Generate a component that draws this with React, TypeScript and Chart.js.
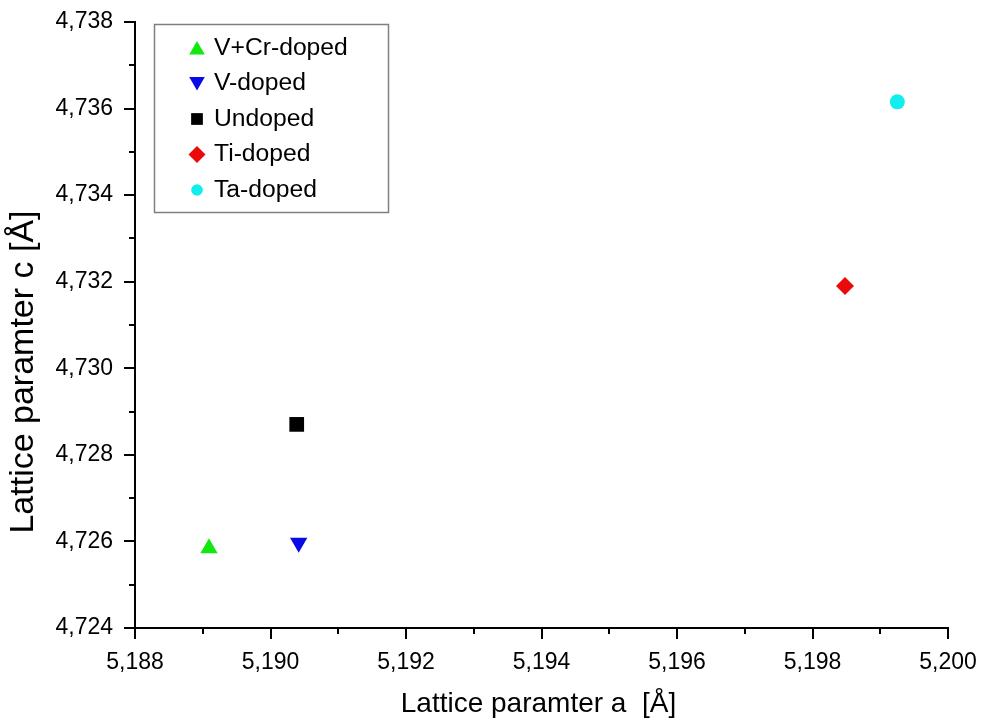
import React, { useEffect, useRef } from 'react';
import { Chart, registerables } from 'chart.js';
import { drawPoint } from 'chart.js/helpers';

Chart.register(...registerables);

// ---- data ----
const seriesLabels = ['V+Cr-doped', 'V-doped', 'Undoped', 'Ti-doped', 'Ta-doped'];
const latticeA = [5.189092, 5.190416, 5.190387, 5.19848, 5.199252];
const latticeC = [4.725841, 4.72597, 4.728704, 4.731903, 4.736155];
const pointStyles = ['triangle', 'triangle', 'rect', 'rectRot', 'circle'];
const rotations = [0, 180, 0, 0, 0];
const colors = ['#10e810', '#0a0ae6', '#000000', '#ea0a0a', '#10eeee'];
const pointRadii = [10, 10, 10.4, 9, 7.5];
const legendRadii = [9, 9, 8.3, 8.5, 5.8];
const xRange = [5.188, 5.2];
const yRange = [4.724, 4.738];
const tickStep = 0.001;
const xTitle = 'Lattice paramter a  [Å]';
const yTitle = 'Lattice paramter c [Å]';

const FONT = "'Liberation Sans', Arial, Helvetica, sans-serif";

const isMajor = (v: number) => Math.round(v * 1000) % 2 === 0;
const fmt = (v: number) => (isMajor(v) ? v.toFixed(3).replace('.', ',') : '');

const zeroPad = (s: any) => {
  s.paddingLeft = 0;
  s.paddingRight = 0;
  s.paddingTop = 0;
  s.paddingBottom = 0;
};

const decorPlugin = {
  id: 'decor',
  afterDraw(chart: any) {
    const ctx = chart.ctx as CanvasRenderingContext2D;
    const xs = chart.scales.x;
    const ys = chart.scales.y;
    const area = chart.chartArea;
    ctx.save();
    // tick marks (major + minor)
    ctx.strokeStyle = '#000';
    ctx.lineWidth = 2;
    xs.ticks.forEach((t: any) => {
      const px = Math.round(xs.getPixelForValue(t.value));
      const len = isMajor(t.value) ? 11 : 6;
      ctx.beginPath();
      ctx.moveTo(px, area.bottom);
      ctx.lineTo(px, area.bottom + len);
      ctx.stroke();
    });
    ys.ticks.forEach((t: any) => {
      const py = Math.round(ys.getPixelForValue(t.value));
      const len = isMajor(t.value) ? 11 : 6;
      ctx.beginPath();
      ctx.moveTo(area.left, py);
      ctx.lineTo(area.left - len, py);
      ctx.stroke();
    });

    // axis titles
    ctx.fillStyle = '#000';
    ctx.textAlign = 'center';
    ctx.textBaseline = 'middle';
    ctx.font = `28px ${FONT}`;
    ctx.fillText(xTitle, (area.left + area.right) / 2 - 3, 704);
    ctx.save();
    ctx.translate(24, 372);
    ctx.rotate(-Math.PI / 2);
    ctx.font = `34px ${FONT}`;
    ctx.fillText(yTitle, 0, 0);
    ctx.restore();

    // legend box
    ctx.strokeStyle = '#808080';
    ctx.lineWidth = 1.5;
    ctx.strokeRect(154.5, 24.5, 234, 188);
    ctx.font = `24.7px ${FONT}`;
    ctx.textAlign = 'left';
    chart.data.datasets.forEach((ds: any, i: number) => {
      const rowY = 48 + i * 35.5;
      ctx.fillStyle = ds.backgroundColor;
      drawPoint(
        ctx,
        { pointStyle: ds.pointStyle, rotation: ds.rotation || 0, radius: legendRadii[i], borderWidth: 0 } as any,
        197,
        rowY + (ds.pointStyle === 'triangle' ? (ds.rotation ? -2 : 2) : 0)
      );
      ctx.fillStyle = '#000';
      ctx.fillText(ds.label, 214, rowY);
    });
    ctx.restore();
  },
};

export default function App() {
  const ref = useRef<HTMLCanvasElement>(null);
  useEffect(() => {
    document.body.style.margin = '0';
    if (!ref.current) return;
    const datasets = seriesLabels.map((label, i) => ({
      label,
      data: [{ x: latticeA[i], y: latticeC[i] }],
      pointStyle: pointStyles[i],
      rotation: rotations[i],
      backgroundColor: colors[i],
      borderColor: colors[i],
      borderWidth: 0,
      pointRadius: pointRadii[i],
      pointHoverRadius: pointRadii[i],
    }));
    const chart = new Chart(ref.current, {
      type: 'scatter',
      data: { datasets: datasets as any },
      options: {
        responsive: false,
        animation: false,
        layout: { padding: { top: 22, right: 33, left: 0, bottom: 0 } },
        plugins: { legend: { display: false }, tooltip: { enabled: false } },
        scales: {
          x: {
            type: 'linear',
            min: xRange[0],
            max: xRange[1],
            grid: { display: false, drawTicks: false },
            border: { display: true, color: '#000', width: 2 },
            ticks: {
              stepSize: tickStep,
              autoSkip: false,
              maxRotation: 0,
              padding: 21,
              color: '#000',
              font: { family: FONT, size: 23 },
              callback: (v: any) => fmt(Number(v)),
            },
            afterFit: (s: any) => {
              s.height = 96;
              zeroPad(s);
            },
          },
          y: {
            type: 'linear',
            min: yRange[0],
            max: yRange[1],
            grid: { display: false, drawTicks: false },
            border: { display: true, color: '#000', width: 2 },
            ticks: {
              stepSize: tickStep,
              autoSkip: false,
              padding: 22,
              color: '#000',
              font: { family: FONT, size: 23 },
              callback: (v: any) => fmt(Number(v)),
            },
            afterFit: (s: any) => {
              s.width = 135;
              zeroPad(s);
            },
          },
        },
      },
      plugins: [decorPlugin],
    });
    return () => chart.destroy();
  }, []);
  return (
    <div style={{ width: 981, height: 724, background: '#fff' }}>
      <canvas ref={ref} width={981} height={724} />
    </div>
  );
}
